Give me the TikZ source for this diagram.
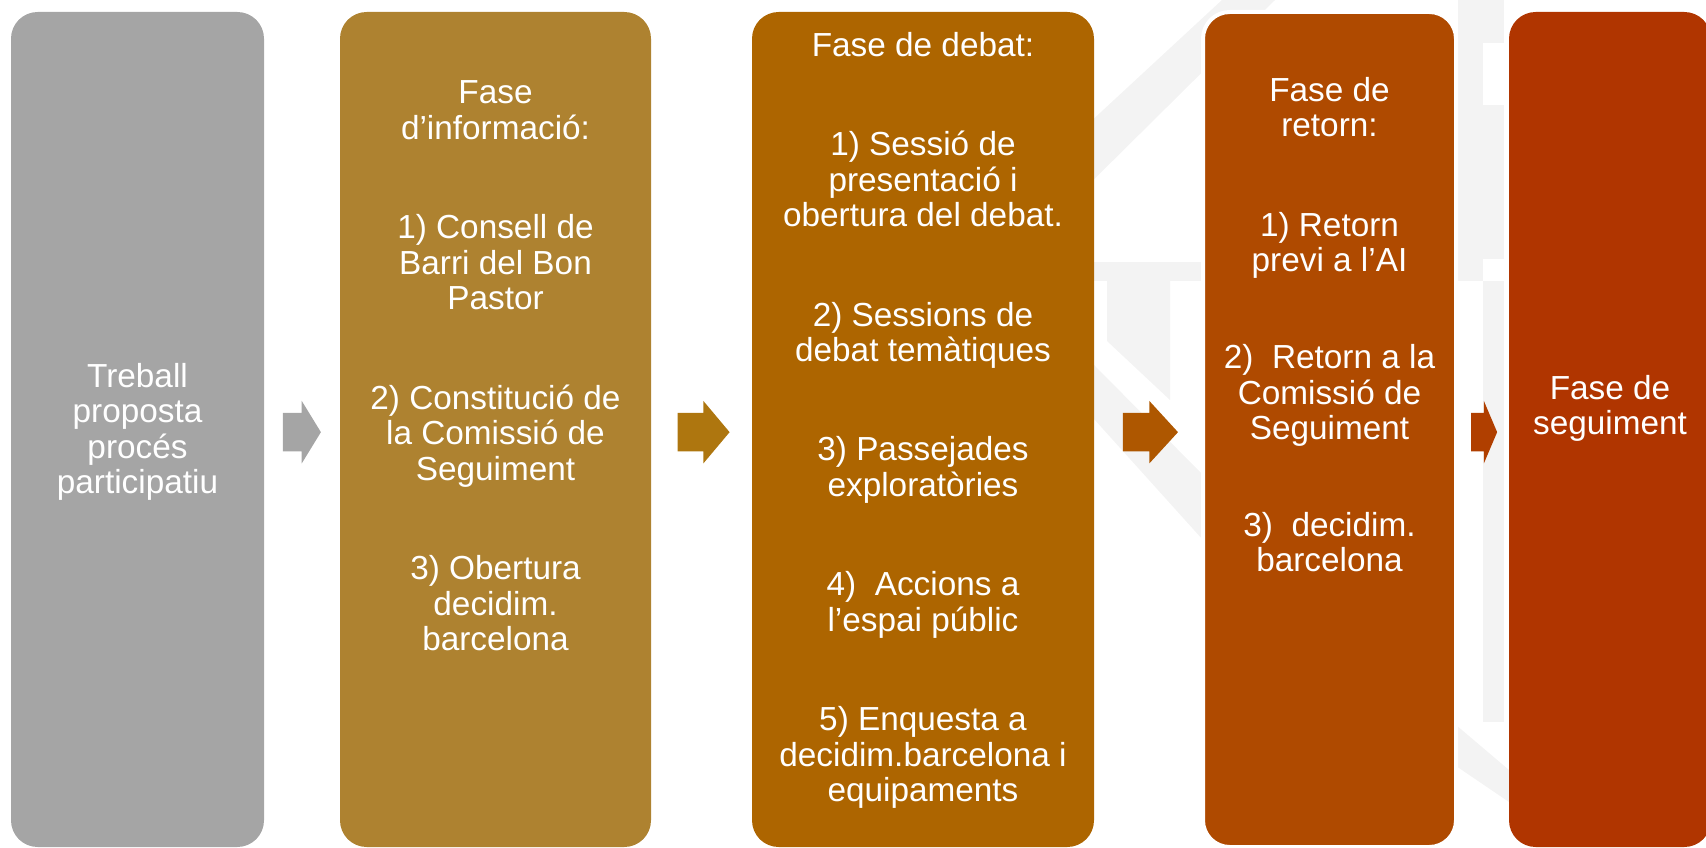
\documentclass[tikz,border=0pt]{standalone}
\usepackage{fontspec}
\setmainfont{Liberation Sans}
\usetikzlibrary{positioning}
\usetikzlibrary{shapes.arrows}
\usetikzlibrary{calc}

\definecolor{treballgray}{HTML}{A5A5A5}
\definecolor{infogold}{HTML}{AE8230}
\definecolor{debatbrown}{HTML}{AD6500}
\definecolor{retornrust}{HTML}{AF4A00}
\definecolor{seguimentred}{HTML}{B03500}
\definecolor{arrowgold}{HTML}{AE760F}
\definecolor{arrowbrown}{HTML}{AE5700}
\definecolor{arrowred}{HTML}{B03F00}
\definecolor{watermark}{HTML}{F3F3F3}

\begin{document}
\begin{tikzpicture}[
  x=0.75pt, y=-0.75pt,
  phase/.style={rounded corners=20pt, inner sep=0pt, minimum height=626.25pt},
  phasetext/.style={text=white, align=center, inner sep=0pt,
    font=\fontsize{25pt}{26.6pt}\selectfont},
  steparrow/.style={single arrow, inner xsep=0pt, inner ysep=14.25pt,
    single arrow head extend=9pt, xshift=-4.5pt, yshift=-2pt}
]
  \useasboundingbox (0,0) rectangle (1706,848);

  % faint logo behind the phases
  \fill[watermark] (1060,150) -- (1222,0) -- (1275,0) -- (1060,213) -- cycle;
  \fill[watermark] (1094,262) rectangle (1203,281);
  \fill[watermark] (1107,281) -- (1107,341) -- (1170,400) -- (1170,281) -- cycle;
  \fill[watermark] (1094,365) -- (1203,475) -- (1203,540) -- (1094,419) -- cycle;
  \fill[watermark] (1458,0) rectangle (1483,281);
  \fill[watermark] (1483,0) rectangle (1504,43);
  \fill[watermark] (1483,105) rectangle (1504,259);
  \fill[watermark] (1483,281) rectangle (1504,722);
  \fill[watermark] (1456,725) -- (1509,770) -- (1509,802) -- (1456,766) -- cycle;

  \node[phase, fill=treballgray, minimum width=189.75pt] (treball) at (137.5,429.5) {};
  \node[phase, fill=infogold, minimum width=233.25pt] (info) at (495.5,429.5) {};
  \node[phase, fill=debatbrown, minimum width=256.5pt] (debat) at (923,429.5) {};
  \node[phase, fill=retornrust, draw=white, line width=3pt, minimum width=189.75pt] (retorn) at (1329.5,429.5) {};
  \node[phase, fill=seguimentred, minimum width=151.5pt] (seguiment) at (1610,429.5) {};

  \node[phasetext, below=263.25pt of treball.north] (treballtxt)
    {Treball\\proposta\\procés\\participatiu};
  \node[phasetext, below=51.75pt of info.north] (infotxt)
    {Fase\\d’informació:\\[48pt]1) Consell de\\Barri del Bon\\Pastor\\[48pt]2) Constitució de\\la Comissió de\\Seguiment\\[48pt]3) Obertura\\decidim.\\barcelona};
  \node[phasetext, below=15pt of debat.north] (debattxt)
    {Fase de debat:\\[48pt]1) Sessió de\\presentació i\\obertura del debat.\\[48pt]2) Sessions de\\debat temàtiques\\[48pt]3) Passejades\\exploratòries\\[48pt]4)\ \ Accions a\\l’espai públic\\[48pt]5) Enquesta a\\decidim.barcelona i\\equipaments};
  \node[phasetext, below=50.25pt of retorn.north] (retorntxt)
    {Fase de\\retorn:\\[48pt]1) Retorn\\previ a l’AI\\[46pt]2)\ \ Retorn a la\\Comissió de\\Seguiment\\[46pt]3)\ \ decidim.\\barcelona};
  \node[phasetext, below=272.25pt of seguiment.north] (seguimenttxt)
    {Fase de\\seguiment};

  \node[steparrow, fill=treballgray, minimum height=28.5pt, single arrow tip angle=117]
    (a1) at ($(treball.east)!0.5!(info.west)$) {};
  \node[steparrow, fill=arrowgold, minimum height=39pt, single arrow tip angle=100]
    (a2) at ($(info.east)!0.5!(debat.west)$) {};
  \node[steparrow, fill=arrowbrown, minimum height=41.25pt, single arrow tip angle=95]
    (a3) at ($(debat.east)!0.5!(retorn.west)$) {};
  \node[steparrow, fill=arrowred, minimum height=19.5pt, single arrow tip angle=134,
    xshift=2pt] (a4) at ($(retorn.east)!0.5!(seguiment.west)$) {};
\end{tikzpicture}
\end{document}
